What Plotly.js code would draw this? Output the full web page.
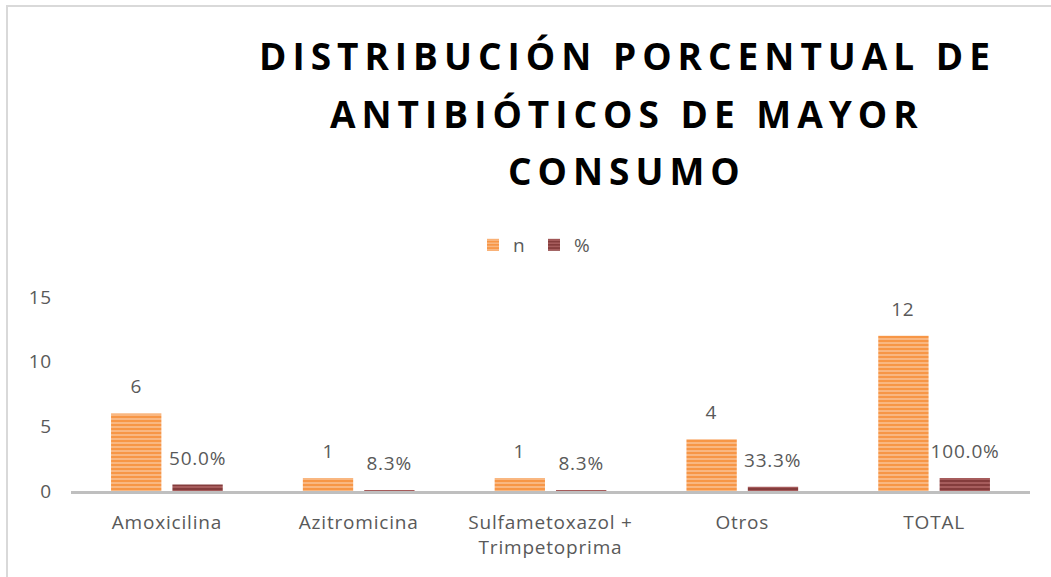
<!DOCTYPE html>
<html>
<head>
<meta charset="utf-8">
<script src="https://cdn.plot.ly/plotly-3.0.1.min.js"></script>
<style>
  html, body { margin: 0; padding: 0; background: #fff; }
  #chart { width: 1051px; height: 577px; }
  .annotation.title-line .annotation-text { letter-spacing: 6px; }
  .xtick text, .ytick text, .legendtext, .annotation.data-label .annotation-text { letter-spacing: 0.8px; }
</style>
</head>
<body>
<div id="chart"></div>
<script>
const categories = ["Amoxicilina", "Azitromicina", "Sulfametoxazol +<br>Trimpetoprima", "Otros", "TOTAL"];
const nValues = [6, 1, 1, 4, 12];
const pctValues = [0.5, 0.083, 0.083, 0.333, 1.0];
const seriesNames = ["n", "%"];
const titleLines = ["DISTRIBUCIÓN PORCENTUAL DE", "ANTIBIÓTICOS DE MAYOR", "CONSUMO"];
const yTicks = [0, 5, 10, 15];

const labelFont = { family: "Open Sans, sans-serif", size: 19, color: "#595959" };
const bargap = 0.36;

const traces = [
  {
    type: "bar", name: seriesNames[0], x: categories, y: nValues,
    marker: { color: "#F79646", line: { width: 0 },
      pattern: { shape: "-", fgcolor: "#FBC59A", bgcolor: "#F79646", size: 4, solidity: 0.35 } }
  },
  {
    type: "bar", name: seriesNames[1], x: categories, y: pctValues,
    marker: { color: "#843C3C", line: { width: 0 },
      pattern: { shape: "-", fgcolor: "#B56A6A", bgcolor: "#843C3C", size: 4, solidity: 0.35 } }
  }
];

const plotL = 71, plotR = 1030, plotT = 297, plotB = 491;
const pw = plotR - plotL, ph = plotB - plotT;
const px = v => (v - plotL) / pw;
const py = v => (plotB - v) / ph;

const titleY = [55, 113, 170];
const annotations = titleLines.map((t, i) => ({
  text: t, xref: "paper", yref: "paper", x: px(627), y: py(titleY[i]),
  xanchor: "center", yanchor: "middle", showarrow: false,
  font: { family: "Open Sans, sans-serif", size: 37, color: "#000", weight: 700 }
}));

// data labels, placed at each bar's value through the axes
const slotOffset = (1 - bargap) / 4;
nValues.forEach((v, i) => annotations.push({
  text: String(v), xref: "x", yref: "y", x: i - slotOffset, y: v,
  xanchor: "center", yanchor: "bottom", yshift: 12, showarrow: false, font: labelFont
}));
pctValues.forEach((v, i) => annotations.push({
  text: (v * 100).toFixed(1) + "%", xref: "x", yref: "y", x: i + slotOffset, y: v,
  xanchor: "center", yanchor: "bottom", yshift: 12, showarrow: false, font: labelFont
}));

const layout = {
  width: 1051, height: 577,
  margin: { l: plotL, r: 1051 - plotR, t: plotT, b: 577 - plotB },
  paper_bgcolor: "#fff", plot_bgcolor: "#fff",
  barmode: "group", bargap: bargap, bargroupgap: 0.18,
  showlegend: true,
  legend: { orientation: "h", x: px(534), xanchor: "center", y: py(245), yanchor: "middle",
    font: labelFont, traceorder: "normal", entrywidth: 16, itemwidth: 30 },
  xaxis: { type: "category", showline: true, linecolor: "#BFBFBF", linewidth: 3,
    ticks: "", tickfont: labelFont, showgrid: false, zeroline: false, ticklabelstandoff: 12 },
  yaxis: { range: [0, 15], tickvals: yTicks, ticktext: yTicks.map(String), showgrid: false,
    zeroline: false, showline: false, ticks: "", tickfont: labelFont, ticklabelstandoff: 18 },
  annotations: annotations,
  shapes: [
    { type: "line", xref: "paper", yref: "paper", x0: px(7), x1: px(7), y0: py(5), y1: py(600),
      line: { color: "#D9D9D9", width: 2 } },
    { type: "line", xref: "paper", yref: "paper", x0: px(6), x1: px(1060), y0: py(6), y1: py(6),
      line: { color: "#D9D9D9", width: 2 } }
  ]
};

Plotly.newPlot("chart", traces, layout, { displayModeBar: false, staticPlot: true }).then(gd => {
  const anns = gd.querySelectorAll(".annotation");
  anns.forEach((el, i) => el.classList.add(i < titleLines.length ? "title-line" : "data-label"));
});
</script>
</body>
</html>
